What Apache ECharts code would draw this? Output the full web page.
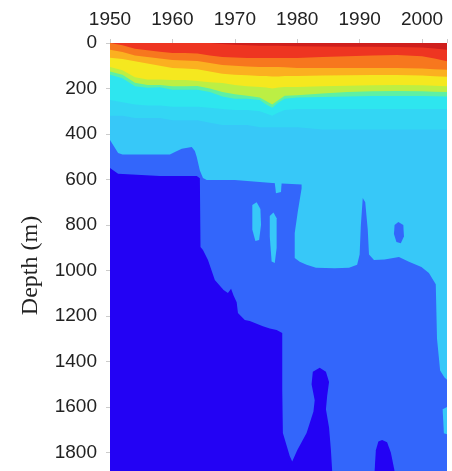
<!DOCTYPE html>
<html>
<head>
<meta charset="utf-8">
<script src="https://cdn.jsdelivr.net/npm/echarts@6/dist/echarts.min.js"></script>
<style>
  html, body { margin: 0; padding: 0; background: #fff; }
  #chart { width: 452px; height: 471px; }
</style>
</head>
<body>
<div id="chart"></div>
<script>
// tick labels
const yearTicks = [1950, 1960, 1970, 1980, 1990, 2000];
const depthTicks = [0, 200, 400, 600, 800, 1000, 1200, 1400, 1600, 1800];

// upper layers: depth (m) of each colour edge, read at these years
const bandYears = [1950, 1952, 1954, 1956, 1958, 1960, 1962, 1964, 1966, 1968, 1970, 1972, 1974, 1975, 1976, 1977, 1978, 1980, 1984, 1988, 1992, 1996, 2000, 2002, 2004];
const darkRedEdge = [0, 0, 0, 0, 0, 0, 0, 0, 0, 4, 8, 10, 12, 12, 12, 12, 13, 14, 15, 16, 17, 18, 20, 24, 30];
const redEdge = [0, 10, 25, 32, 38, 44, 44, 46, 55, 62, 64, 66, 66, 66, 66, 66, 66, 66, 62, 58, 55, 53, 58, 68, 80];
const orangeEdge = [30, 40, 55, 62, 68, 75, 77, 79, 88, 97, 100, 103, 105, 105, 106, 106, 107, 110, 110, 110, 110, 110, 112, 115, 118];
const amberEdge = [65, 70, 80, 90, 100, 110, 112, 115, 125, 135, 140, 142, 145, 145, 147, 147, 145, 145, 143, 142, 141, 141, 143, 146, 148];
const yellowEdge = [105, 120, 150, 160, 160, 163, 163, 167, 172, 176, 185, 190, 193, 196, 200, 196, 193, 193, 190, 188, 186, 185, 186, 188, 190];
const limeEdge = [125, 140, 175, 185, 185, 190, 190, 189, 200, 215, 225, 232, 240, 255, 270, 250, 232, 230, 222, 215, 212, 211, 212, 214, 215];
const aquaEdge = [140, 155, 190, 197, 195, 205, 205, 206, 215, 235, 245, 245, 250, 270, 285, 262, 245, 240, 237, 235, 233, 233, 233, 234, 235];
const brightCyanEdge = [250, 260, 270, 275, 275, 280, 280, 280, 285, 290, 295, 295, 300, 310, 320, 305, 295, 290, 290, 290, 290, 290, 290, 290, 290];
const cyanEdge = [320, 320, 330, 330, 330, 340, 340, 340, 350, 360, 360, 360, 370, 370, 370, 370, 370, 370, 380, 380, 380, 380, 380, 380, 380];

// deep layers: outlines as [year, depth]
const mediumZone = [[1950, 426], [1951.3, 483], [1952, 490], [1959.6, 490], [1960.4, 479], [1961.5, 465], [1963.1, 457], [1963.6, 475], [1963.9, 501], [1964.4, 560], [1964.9, 593], [1965.5, 602], [1970, 602], [1974, 611], [1976, 615], [1980.7, 622], [1980.7, 640], [1980.1, 740], [1979.6, 835], [1979.6, 945], [1980.4, 962], [1981.5, 975], [1983, 988], [1986, 990], [1988.3, 988], [1989.6, 975], [1990.0, 930], [1990.2, 800], [1990.5, 681], [1990.9, 700], [1991.3, 820], [1991.5, 930], [1992.3, 954], [1994, 952], [1996.3, 941], [1997.9, 962], [1999.9, 985], [2001.1, 1011], [2002.2, 1060], [2002.4, 1300], [2002.9, 1440], [2003.6, 1470], [2004, 1480], [2004, 2000], [1950, 2000]];
const cyanStreakA = [[1972.8, 712], [1973.5, 700], [1974.1, 730], [1974.2, 800], [1973.9, 866], [1973.3, 870], [1972.8, 820]];
const cyanStreakB = [[1975.6, 760], [1976.2, 745], [1976.7, 770], [1976.7, 900], [1976.4, 967], [1975.9, 960], [1975.6, 850]];
const cyanNotch = [[1976.4, 615], [1977.5, 615], [1977.4, 655], [1976.6, 660]];
const cyanEdgeBit = [[2003.3, 1610], [2004, 1600], [2004, 1720], [2003.5, 1715]];
const mediumBlob = [[1995.6, 800], [1996.2, 787], [1997.0, 800], [1997.1, 850], [1996.6, 880], [1995.9, 875], [1995.5, 840]];
const darkZone = [[1950, 549], [1951.3, 575], [1958, 585], [1963.9, 585], [1964.4, 595], [1964.5, 897], [1964.9, 910], [1965.7, 954], [1966.8, 1042], [1968.2, 1086], [1968.9, 1099], [1969.4, 1080], [1969.8, 1110], [1970.3, 1140], [1970.5, 1187], [1971.6, 1218], [1972.4, 1222], [1974.5, 1245], [1975.6, 1255], [1976.7, 1262], [1977.6, 1275], [1977.6, 1525], [1977.7, 1714], [1978.8, 1815], [1979.2, 1840], [1980.0, 1790], [1981.5, 1714], [1982.6, 1620], [1982.8, 1570], [1982.3, 1500], [1982.5, 1445], [1983.6, 1427], [1984.6, 1445], [1985.1, 1490], [1984.8, 1550], [1984.6, 1610], [1985.1, 1690], [1985.4, 1790], [1985.6, 1881], [1985.6, 2000], [1950, 2000]];
const darkBlob = [[1992.6, 1790], [1993.0, 1752], [1993.6, 1745], [1994.4, 1755], [1995.0, 1800], [1995.6, 1881], [1995.9, 2000], [1992.3, 2000], [1992.4, 1881]];

const C = {
  darkRed: '#cf1f1c', red: '#ee3521', orange: '#f7771e', amber: '#fbb020',
  yellow: '#f5e81f', lime: '#bcef44', aqua: '#5ef0a4', brightCyan: '#2ee6ef',
  cyan1: '#33d6f4', cyan2: '#37c8f8', medium: '#3366fb', dark: '#2302f4'
};

function fromTop(edge) {
  return [[1950, 0]].concat(bandYears.map((y, i) => [y, edge[i]]), [[2004, 0]]);
}

const layers = [
  { color: C.cyan2, pts: [[1950, 0], [2004, 0], [2004, 2000], [1950, 2000]] },
  { color: C.cyan1, pts: fromTop(cyanEdge) },
  { color: C.brightCyan, pts: fromTop(brightCyanEdge) },
  { color: C.aqua, pts: fromTop(aquaEdge) },
  { color: C.lime, pts: fromTop(limeEdge) },
  { color: C.yellow, pts: fromTop(yellowEdge) },
  { color: C.amber, pts: fromTop(amberEdge) },
  { color: C.orange, pts: fromTop(orangeEdge) },
  { color: C.red, pts: fromTop(redEdge) },
  { color: C.darkRed, pts: fromTop(darkRedEdge) },
  { color: C.medium, pts: mediumZone },
  { color: C.cyan2, pts: cyanStreakA },
  { color: C.cyan2, pts: cyanStreakB },
  { color: C.cyan2, pts: cyanNotch },
  { color: C.cyan2, pts: cyanEdgeBit },
  { color: C.medium, pts: mediumBlob },
  { color: C.dark, pts: darkZone },
  { color: C.dark, pts: darkBlob }
];

const chart = echarts.init(document.getElementById('chart'));
const labelStyle = { fontFamily: 'Liberation Sans', fontSize: 19, color: '#222' };
chart.setOption({
  animation: false,
  grid: { left: 110, right: 5, top: 43, height: 455, outerBoundsMode: 'none' },
  xAxis: {
    type: 'value', position: 'top', min: 1950, max: 2004, interval: 10,
    axisLine: { show: false },
    axisTick: { show: true, length: 4, lineStyle: { color: '#ccc' } },
    splitLine: { show: false },
    axisLabel: Object.assign({ margin: 14, formatter: v => yearTicks.includes(v) ? String(v) : '' }, labelStyle)
  },
  yAxis: {
    type: 'value', inverse: true, min: 0, max: 2000, interval: 200,
    name: 'Depth (m)', nameLocation: 'middle', nameGap: 67,
    nameTextStyle: { fontFamily: 'Liberation Serif', fontSize: 24, color: '#222', padding: [0, 0, 0, 10] },
    axisLine: { show: false },
    axisTick: { show: true, length: 4, lineStyle: { color: '#ccc' } },
    splitLine: { show: false },
    axisLabel: Object.assign({ margin: 13, formatter: v => depthTicks.includes(v) ? String(v) : '' }, labelStyle)
  },
  series: [{
    type: 'custom',
    silent: true,
    clip: true,
    encode: { x: 0, y: 1 },
    data: layers.map(l => [l.pts[0][0], l.pts[0][1]]),
    renderItem: (params, api) => {
      const layer = layers[params.dataIndex];
      return {
        type: 'polygon',
        shape: { points: layer.pts.map(p => api.coord(p)) },
        style: { fill: layer.color }
      };
    }
  }]
});
</script>
</body>
</html>
